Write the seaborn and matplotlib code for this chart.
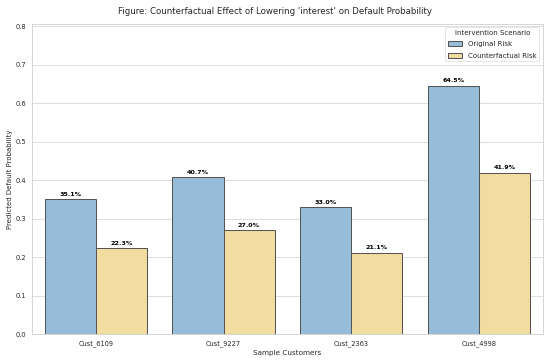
import pandas as pd
import matplotlib.pyplot as plt
import seaborn as sns

customers = ["Cust_6109", "Cust_9227", "Cust_2363", "Cust_4998"]
original_risk = [0.351, 0.407, 0.330, 0.645]
counterfactual_risk = [0.223, 0.270, 0.211, 0.419]
scenarios = ["Original Risk", "Counterfactual Risk"]

df = pd.DataFrame({
    "Customer": customers * 2,
    "Risk": original_risk + counterfactual_risk,
    "Scenario": [scenarios[0]] * 4 + [scenarios[1]] * 4,
})

sns.set_theme(style="whitegrid")
fig, ax = plt.subplots(figsize=(12, 7.9), dpi=550 / 12)
sns.barplot(data=df, x="Customer", y="Risk", hue="Scenario", saturation=1,
            palette=["#97bcd9", "#f2dda0"], edgecolor="#555555", linewidth=1.6, ax=ax)

for container in ax.containers:
    ax.bar_label(container, labels=[f"{v * 100:.1f}%" for v in container.datavalues],
                 padding=4, fontsize=10, fontweight="bold", color="black")

ax.set_ylim(0, max(original_risk) * 1.25)
fig.suptitle("Figure: Counterfactual Effect of Lowering 'interest' on Default Probability",
             fontsize=13.5, y=0.98)
ax.set_xlabel("Sample Customers", fontsize=11.5)
ax.set_ylabel("Predicted Default Probability", fontsize=11)
ax.tick_params(labelsize=10.5)
ax.legend(title="Intervention Scenario", loc="upper right", fontsize=11, title_fontsize=11,
          labelspacing=0.75)
fig.subplots_adjust(left=0.058, right=0.987, top=0.934, bottom=0.077)
plt.savefig("out.png")
